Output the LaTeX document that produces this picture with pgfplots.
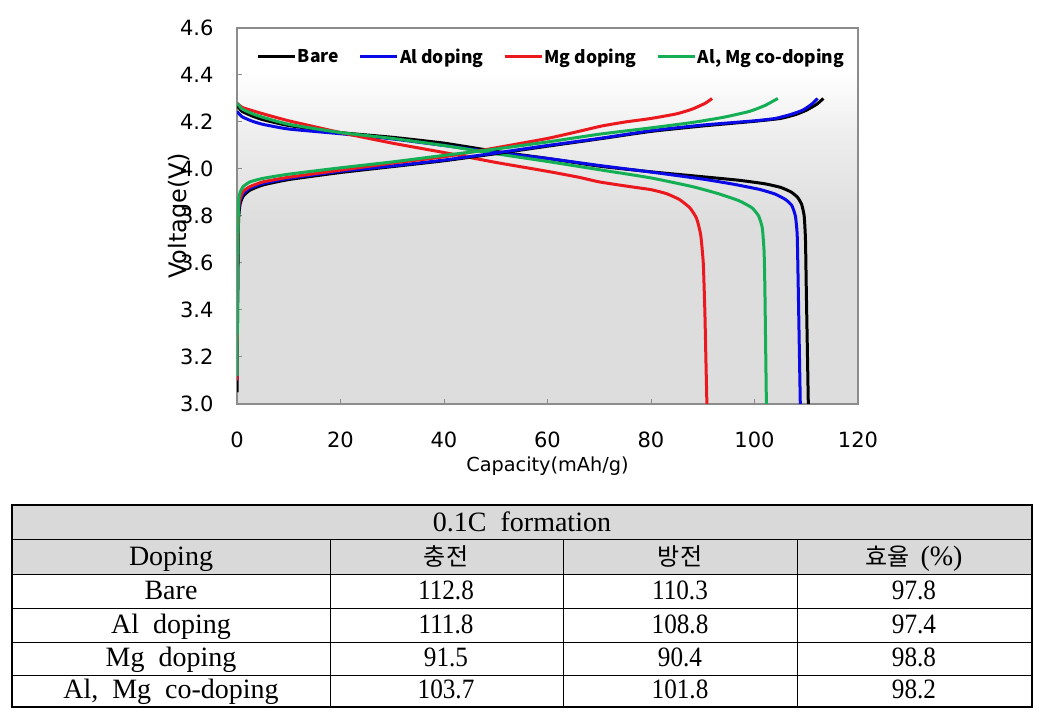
\documentclass[border=0pt]{standalone}
\usepackage{fontspec}
\setmainfont{DejaVu Sans}
\newfontfamily\legfont{Noto Sans CJK KR}
\newfontfamily\tabfont{Liberation Serif}
\newfontfamily\numfont{Liberation Serif}[FakeStretch=0.9]
\newfontfamily\krfont{Noto Sans CJK KR}
\usepackage{pgfplots}
\usepackage{pgfplotstable}
\pgfplotsset{compat=1.18}

\definecolor{cBare}{RGB}{0,0,0}
\definecolor{cAl}{RGB}{10,10,230}
\definecolor{cMg}{RGB}{235,25,30}
\definecolor{cAlMg}{RGB}{20,175,85}
\definecolor{bgg}{RGB}{221,221,221}
\definecolor{bgm}{RGB}{236,236,236}
\definecolor{framec}{RGB}{140,140,140}
\definecolor{hdr}{RGB}{217,217,217}

% plot area: grey at the bottom, white near the top
\pgfdeclareverticalshading{plotbg}{100bp}{color(0bp)=(bgg); color(25bp)=(bgg); color(49bp)=(bgg); color(60bp)=(bgm); color(69bp)=(white); color(100bp)=(white)}

% discharge curves
\pgfplotstableread{
x y
0 4.27
1 4.245
3 4.225
5 4.21
10 4.185
20 4.155
30 4.135
40 4.11
50 4.075
60 4.045
70 4.012
80 3.988
90 3.967
97 3.952
102 3.937
105 3.922
107 3.903
108.3 3.88
109.1 3.85
109.6 3.80
109.85 3.70
110.0 3.5
110.2 3.25
110.4 3.0
}\bareD
\pgfplotstableread{
x y
0 4.245
1 4.222
3 4.203
5 4.19
10 4.17
20 4.15
30 4.128
40 4.10
50 4.07
60 4.045
70 4.015
80 3.987
90 3.957
96 3.935
101 3.913
104 3.893
106 3.87
107.2 3.845
107.9 3.80
108.25 3.72
108.45 3.5
108.65 3.25
108.85 3.0
}\alD
\pgfplotstableread{
x y
0 4.28
1 4.262
3 4.248
5 4.235
10 4.205
20 4.155
30 4.11
40 4.07
50 4.028
60 3.99
66 3.965
70 3.945
75 3.928
80 3.912
83 3.895
85.5 3.87
87.5 3.835
88.8 3.79
89.6 3.72
90.1 3.6
90.4 3.4
90.6 3.2
90.8 3.0
}\mgD
\pgfplotstableread{
x y
0 4.28
1 4.255
3 4.235
5 4.22
10 4.19
20 4.155
30 4.13
40 4.10
50 4.065
60 4.032
70 3.997
80 3.962
88 3.925
93 3.895
97 3.865
99.5 3.835
100.8 3.80
101.5 3.75
101.85 3.65
102.0 3.5
102.15 3.25
102.3 3.0
}\almgD

% charge curves
\pgfplotstableread{
x y
0 3.05
0.15 3.5
0.3 3.78
0.6 3.85
1.2 3.885
2.5 3.91
5 3.932
10 3.955
20 3.985
30 4.01
40 4.035
50 4.065
60 4.097
70 4.128
80 4.16
90 4.183
100 4.203
105 4.215
108 4.232
110 4.25
112 4.275
113.3 4.30
}\bareC
\pgfplotstableread{
x y
0 3.1
0.15 3.6
0.3 3.82
0.6 3.865
1.2 3.895
2.5 3.918
5 3.938
10 3.96
20 3.99
30 4.013
40 4.038
50 4.068
60 4.1
70 4.13
80 4.163
90 4.187
100 4.205
104 4.215
107 4.232
109.3 4.25
111 4.275
112.2 4.30
}\alC
\pgfplotstableread{
x y
0 3.1
0.15 3.6
0.3 3.83
0.6 3.875
1.2 3.905
2.5 3.925
5 3.945
10 3.965
20 3.995
30 4.025
40 4.052
50 4.09
60 4.13
66.6 4.163
70.5 4.183
75 4.2
80 4.215
85 4.235
88 4.255
90.5 4.28
91.8 4.30
}\mgC
\pgfplotstableread{
x y
0 3.12
0.15 3.65
0.3 3.86
0.6 3.9
1.2 3.925
2.5 3.945
5 3.96
10 3.978
20 4.005
30 4.03
40 4.058
50 4.085
60 4.115
70 4.148
80 4.175
88 4.198
94 4.22
99 4.245
102 4.27
104.5 4.30
}\almgC

\begin{document}
\begin{tikzpicture}[x=1pt,y=1pt]
\path[use as bounding box] (0,0) rectangle (1045,717);
\begin{axis}[
    at={(237pt,313pt)}, anchor=south west,
    scale only axis, width=621pt, height=376pt,
    xmin=0, xmax=120, ymin=3, ymax=4.6,
    xtick={0,20,...,120},
    ytick={3.0,3.2,...,4.61},
    yticklabel style={/pgf/number format/fixed, /pgf/number format/fixed zerofill,
        /pgf/number format/precision=1, xshift=-20pt},
    /pgf/number format/assume math mode=true,
    tick label style={font=\fontsize{21}{21}\selectfont},
    xticklabel style={yshift=-24pt},
    tick pos=left, tick align=inside,
    major tick length=5pt,
    tick style={framec, line width=1pt},
    axis line style={framec, line width=1.4pt},
    axis background/.style={shading=plotbg},
    xlabel={Capacity(mAh/g)},
    ylabel={Voltage(V)},
    xlabel style={font=\fontsize{19.3}{19.3}\selectfont, at={(axis description cs:0.5,-0.165)}, anchor=center},
    ylabel style={font=\fontsize{24}{24}\selectfont, at={(axis description cs:-0.092,0.5)}, anchor=center},
    every axis plot/.append style={line width=3pt, line join=round, smooth, tension=0.3},
    legend columns=4,
    legend style={draw=none, fill=none, inner sep=0pt,
        at={(axis description cs:0.031,0.923)}, anchor=west,
        font=\legfont\bfseries\fontsize{17.5}{17.5}\selectfont,
        nodes={inner xsep=1.5pt},
        /tikz/every even column/.append style={column sep=18pt}},
    legend image code/.code={\draw[#1, line width=3pt] (0pt,0pt) -- (37pt,0pt);},
]
\addplot[cBare] table {\bareD};
\addlegendentry{Bare}
\addplot[cAl] table {\alD};
\addlegendentry{Al doping}
\addplot[cMg] table {\mgD};
\addlegendentry{Mg doping}
\addplot[cAlMg] table {\almgD};
\addlegendentry{Al, Mg co-doping}
\addplot[cBare, forget plot] table {\bareC};
\addplot[cAl, forget plot] table {\alC};
\addplot[cMg, forget plot] table {\mgC};
\addplot[cAlMg, forget plot] table {\almgC};
\end{axis}

% table below the chart
\fill[hdr] (12,143) rectangle (1032,212);
\draw[line width=1pt] (12,177) -- (1032,177);
\foreach \yy in {143,109,75,42} \draw[line width=0.8pt] (12,\yy) -- (1032,\yy);
\foreach \xx in {330,563,797} \draw[line width=0.8pt] (\xx,177) -- (\xx,10);
\draw[line width=1.3pt] (12,10) rectangle (1032,212);

\begin{scope}[every node/.style={anchor=base, inner sep=0pt, font=\tabfont\fontsize{28}{28}\selectfont}]
\node at (522,185) {0.1C~~formation};
\node at (171,151) {Doping};
\node[font=\krfont\fontsize{24}{24}\selectfont] at (446,151) {충전};
\node[font=\krfont\fontsize{24}{24}\selectfont] at (680,151) {방전};
\node[font=\krfont\fontsize{24}{24}\selectfont] at (914,151) {효율\hspace{0.45em}{\tabfont\fontsize{28}{28}\selectfont(\%)}};
\node at (171,117) {Bare};
\node at (171,83) {Al~~doping};
\node at (171,50) {Mg~~doping};
\node at (171,18) {Al,~~Mg~~co-doping};
\end{scope}
\begin{scope}[every node/.style={anchor=base, inner sep=0pt, font=\numfont\fontsize{28}{28}\selectfont}]
\node at (446,117) {112.8};
\node at (680,117) {110.3};
\node at (914,117) {97.8};
\node at (446,83) {111.8};
\node at (680,83) {108.8};
\node at (914,83) {97.4};
\node at (446,50) {91.5};
\node at (680,50) {90.4};
\node at (914,50) {98.8};
\node at (446,18) {103.7};
\node at (680,18) {101.8};
\node at (914,18) {98.2};
\end{scope}
\end{tikzpicture}
\end{document}
